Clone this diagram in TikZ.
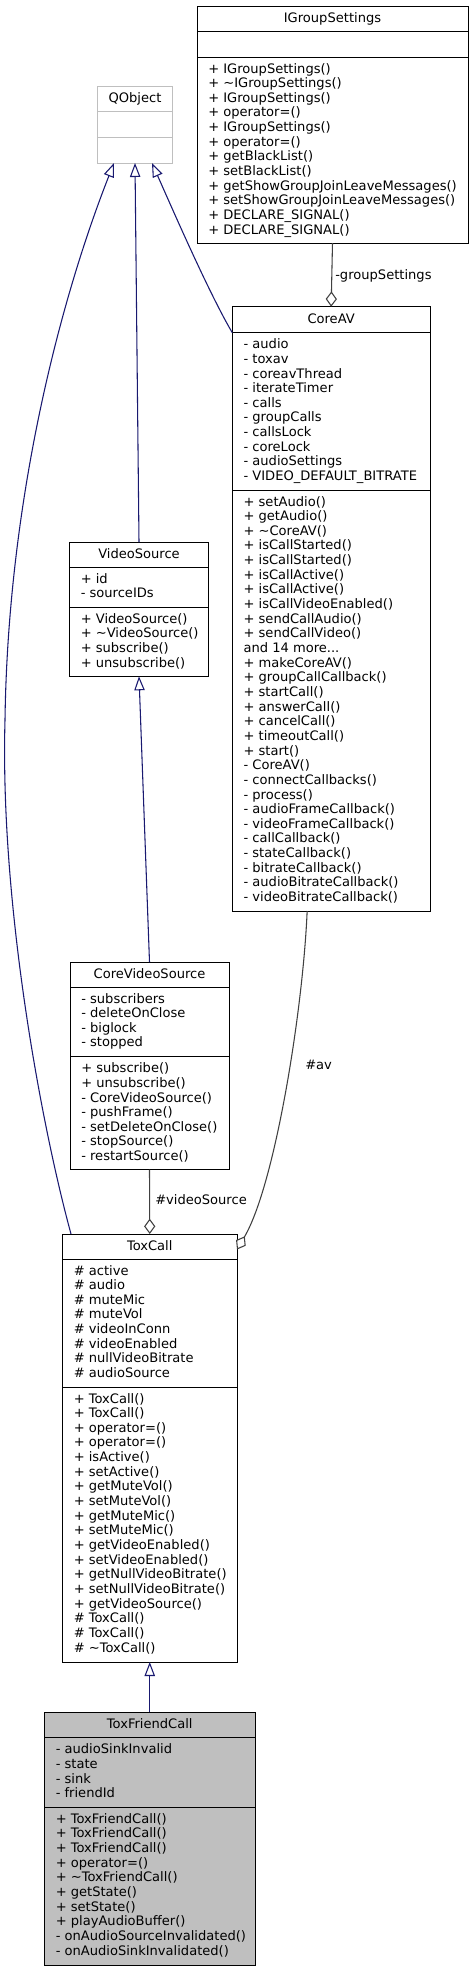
\documentclass[tikz,border=0pt]{standalone}
\usepackage{fontspec}
\setmainfont{DejaVu Sans}
\usetikzlibrary{arrows.meta,fit,calc}
\definecolor{inhblue}{HTML}{191970}
\definecolor{usegray}{HTML}{404040}
\definecolor{greyfill}{HTML}{BFBFBF}
\newcommand\clsfont{\fontsize{9.8pt}{11pt}\selectfont}
\newcommand\threedots{...}
\newcommand\memberlines[4]{\foreach \t [count=\i] in {#4} {\node[mem] (#1\i) at (#2,{#3+16+(\i-1)*14.65}) {\t};}}
\newcommand\classtitle[3]{\node[ttl] (#1) at ($(#2.center)+(0,3.5)$) {#3};}
\begin{document}
\begin{tikzpicture}[x=0.75pt,y=-0.75pt,
  sect/.style={draw=black, line width=0.75pt, inner sep=0pt, outer sep=0pt, fill=white},
  extsect/.style={sect, draw=greyfill},
  focsect/.style={sect, fill=greyfill},
  mem/.style={anchor=base west, inner sep=0pt, font=\clsfont},
  ttl/.style={anchor=base, inner sep=0pt, font=\clsfont},
  lbl/.style={anchor=base west, inner sep=0pt, font=\clsfont},
  inh/.style={draw=inhblue, line width=0.8pt, -{Triangle[open, fill=white, length=10.5pt, width=7.8pt]}},
  agg/.style={draw=usegray, line width=0.8pt, -{Diamond[open, fill=white, length=11.5pt, width=8.4pt]}}]
\path[use as bounding box, fill=white] (0,0) rectangle (473,1971);

% IGroupSettings
\node[sect, fit={(197,6)(468,31)}] (igs-h) {};
\node[sect, fit={(197,31)(468,57)}] (igs-a) {};
\node[sect, fit={(197,57)(468,243)}] (igs-m) {};
\classtitle{igs-t}{igs-h}{IGroupSettings}
\memberlines{igs-ml}{208}{57}{{+ IGroupSettings()},{+ \textasciitilde IGroupSettings()},{+ IGroupSettings()},{+ operator=()},{+ IGroupSettings()},{+ operator=()},{+ getBlackList()},{+ setBlackList()},{+ getShowGroupJoinLeaveMessages()},{+ setShowGroupJoinLeaveMessages()},{+ DECLARE\_SIGNAL()},{+ DECLARE\_SIGNAL()}}

% QObject
\node[extsect, fit={(97.5,86)(172.5,111.7)}] (qo-h) {};
\node[extsect, fit={(97.5,111.7)(172.5,137)}] (qo-a) {};
\node[extsect, fit={(97.5,137)(172.5,163)}] (qo-m) {};
\classtitle{qo-t}{qo-h}{QObject}

% CoreAV
\node[sect, fit={(232.3,306.7)(430,332.7)}] (cav-h) {};
\node[sect, fit={(232.3,332.7)(430,490)}] (cav-a) {};
\node[sect, fit={(232.3,490)(430,911)}] (cav-m) {};
\classtitle{cav-t}{cav-h}{CoreAV}
\memberlines{cav-al}{243.3}{332.7}{{- audio},{- toxav},{- coreavThread},{- iterateTimer},{- calls},{- groupCalls},{- callsLock},{- coreLock},{- audioSettings},{- VIDEO\_DEFAULT\_BITRATE}}
\memberlines{cav-ml}{243.3}{490}{{+ setAudio()},{+ getAudio()},{+ \textasciitilde CoreAV()},{+ isCallStarted()},{+ isCallStarted()},{+ isCallActive()},{+ isCallActive()},{+ isCallVideoEnabled()},{+ sendCallAudio()},{+ sendCallVideo()},{and 14 more\threedots},{+ makeCoreAV()},{+ groupCallCallback()},{+ startCall()},{+ answerCall()},{+ cancelCall()},{+ timeoutCall()},{+ start()},{- CoreAV()},{- connectCallbacks()},{- process()},{- audioFrameCallback()},{- videoFrameCallback()},{- callCallback()},{- stateCallback()},{- bitrateCallback()},{- audioBitrateCallback()},{- videoBitrateCallback()}}

% VideoSource
\node[sect, fit={(69.5,542)(208.5,567)}] (vs-h) {};
\node[sect, fit={(69.5,567)(208.5,607.3)}] (vs-a) {};
\node[sect, fit={(69.5,607.3)(208.5,676.3)}] (vs-m) {};
\classtitle{vs-t}{vs-h}{VideoSource}
\memberlines{vs-al}{80.5}{567}{{+ id},{- sourceIDs}}
\memberlines{vs-ml}{80.5}{607.3}{{+ VideoSource()},{+ \textasciitilde VideoSource()},{+ subscribe()},{+ unsubscribe()}}

% CoreVideoSource
\node[sect, fit={(70,962)(229,987)}] (cvs-h) {};
\node[sect, fit={(70,987)(229,1056.7)}] (cvs-a) {};
\node[sect, fit={(70,1056.7)(229,1169.7)}] (cvs-m) {};
\classtitle{cvs-t}{cvs-h}{CoreVideoSource}
\memberlines{cvs-al}{81}{987}{{- subscribers},{- deleteOnClose},{- biglock},{- stopped}}
\memberlines{cvs-ml}{81}{1056.7}{{+ subscribe()},{+ unsubscribe()},{- CoreVideoSource()},{- pushFrame()},{- setDeleteOnClose()},{- stopSource()},{- restartSource()}}

% ToxCall
\node[sect, fit={(62.5,1234)(237,1259)}] (tc-h) {};
\node[sect, fit={(62.5,1259)(237,1387)}] (tc-a) {};
\node[sect, fit={(62.5,1387)(237,1662)}] (tc-m) {};
\classtitle{tc-t}{tc-h}{ToxCall}
\memberlines{tc-al}{73.5}{1259}{{\# active},{\# audio},{\# muteMic},{\# muteVol},{\# videoInConn},{\# videoEnabled},{\# nullVideoBitrate},{\# audioSource}}
\memberlines{tc-ml}{73.5}{1387}{{+ ToxCall()},{+ ToxCall()},{+ operator=()},{+ operator=()},{+ isActive()},{+ setActive()},{+ getMuteVol()},{+ setMuteVol()},{+ getMuteMic()},{+ setMuteMic()},{+ getVideoEnabled()},{+ setVideoEnabled()},{+ getNullVideoBitrate()},{+ setNullVideoBitrate()},{+ getVideoSource()},{\# ToxCall()},{\# ToxCall()},{\# \textasciitilde ToxCall()}}

% ToxFriendCall
\node[focsect, fit={(44.5,1712.3)(255,1737.7)}] (tfc-h) {};
\node[focsect, fit={(44.5,1737.7)(255,1807.3)}] (tfc-a) {};
\node[focsect, fit={(44.5,1807.3)(255,1965)}] (tfc-m) {};
\classtitle{tfc-t}{tfc-h}{ToxFriendCall}
\memberlines{tfc-al}{55.5}{1737.7}{{- audioSinkInvalid},{- state},{- sink},{- friendId}}
\memberlines{tfc-ml}{55.5}{1807.3}{{+ ToxFriendCall()},{+ ToxFriendCall()},{+ ToxFriendCall()},{+ operator=()},{+ \textasciitilde ToxFriendCall()},{+ getState()},{+ setState()},{+ playAudioBuffer()},{- onAudioSourceInvalidated()},{- onAudioSinkInvalidated()}}

% inheritance
\draw[inh] (tc-h.north west) ++(8.5,0) .. controls (40,1120) and (0,900) .. (5,720) .. controls (8,500) and (60,300) .. ($(qo-m.south)+(-21,0)$);
\draw[inh] (vs-h.north) -- (qo-m.south);
\draw[inh] (cav-h.south west) .. controls (210,295) and (175,215) .. ($(qo-m.south)+(17,0)$);
\draw[inh] (cvs-h.north) -- (vs-m.south);
\draw[inh] (tfc-h.north) -- (tc-m.south);

% usage
\draw[agg] (igs-m.south) -- (cav-h.north);
\node[lbl] (lbl-gs) at (335,279.5) {-groupSettings};
\draw[agg] (cvs-m.south) -- (tc-h.north);
\node[lbl] (lbl-vs) at (155,1204.6) {\#videoSource};
\draw[agg] ($(cav-m.south)+(-24,0)$) .. controls (303,1010) and (275,1185) .. ($(tc-h.east)+(0,3)$);
\node[lbl] (lbl-av) at (305,1069.6) {\#av};
\end{tikzpicture}
\end{document}
